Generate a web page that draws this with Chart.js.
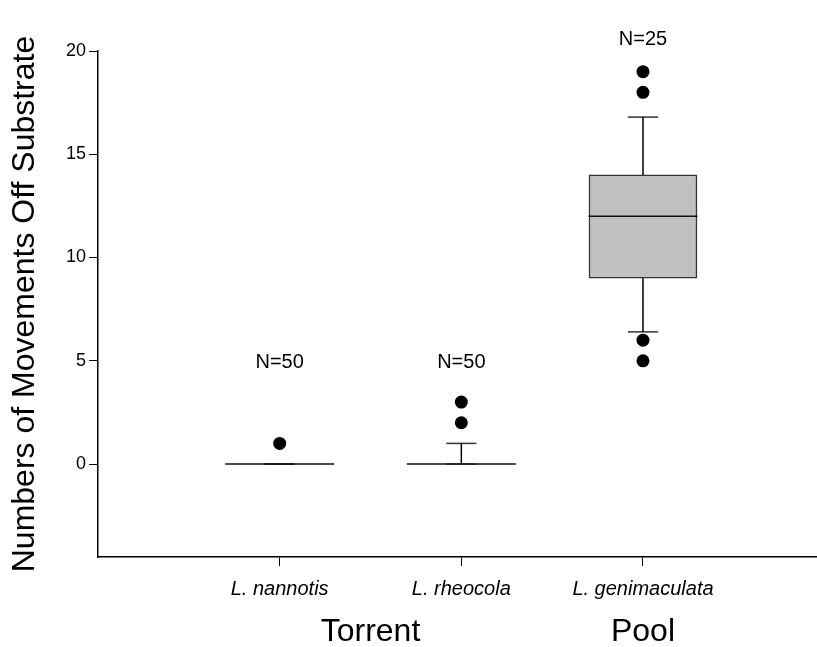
<!DOCTYPE html>
<html>
<head>
<meta charset="utf-8">
<script src="https://cdn.jsdelivr.net/npm/chart.js@4.4.0/dist/chart.umd.min.js"></script>
<style>
    body { margin: 0; background: #fff; }
    #wrap { width: 817px; height: 647px; }
</style>
</head>
<body>
<div id="wrap"><canvas id="boxChart"></canvas></div>
<script>
// data
const species = ["L. nannotis", "L. rheocola", "L. genimaculata"];
const positions = [1, 2, 3];
const habitats = ["Torrent", "Pool"];
const habitatPos = [1.5, 3];
const q1 = [0, 0, 9];
const medians = [0, 0, 12];
const q3 = [0, 0, 14];
const whiskerLow = [0, 0, 6.4];
const whiskerHigh = [0, 1, 16.8];
const outliers = [[1], [2, 3], [5, 6, 18, 19]];
const sampleSizes = ["N=50", "N=50", "N=25"];
const sampleLabelAt = [4.9, 4.9, 20.55];
const yTicks = [0, 5, 10, 15, 20];

const FONT = "'Liberation Sans', Arial, sans-serif";
Chart.defaults.font.family = FONT;
Chart.defaults.color = "#000";

const boxHalf = 0.3;
const capHalf = 0.083;

// a two point line segment
function segment(x1, y1, x2, y2, color, width) {
    return {
        type: "scatter",
        data: [{ x: x1, y: y1 }, { x: x2, y: y2 }],
        showLine: true,
        borderColor: color,
        borderWidth: width,
        pointRadius: 0,
        order: 1,
    };
}

const datasets = [];

// boxes (only where there is a real box)
datasets.push({
    type: "bar",
    data: positions
        .map((p, i) => ({ x: p, y: [q1[i], q3[i]] }))
        .filter((d) => d.y[1] > d.y[0]),
    backgroundColor: "#c0c0c0",
    borderColor: "#333",
    borderWidth: 1.5,
    borderSkipped: false,
    barThickness: 108,
    order: 5,
});

positions.forEach((p, i) => {
    // median
    datasets.push(segment(p - boxHalf, medians[i], p + boxHalf, medians[i], "#111", 1.5));
    // whiskers
    datasets.push(segment(p, q3[i], p, whiskerHigh[i], "#000", 1.5));
    datasets.push(segment(p, q1[i], p, whiskerLow[i], "#000", 1.5));
    // caps
    datasets.push(segment(p - capHalf, whiskerHigh[i], p + capHalf, whiskerHigh[i], "#333", 1.5));
    datasets.push(segment(p - capHalf, whiskerLow[i], p + capHalf, whiskerLow[i], "#333", 1.5));
});

// outliers
datasets.push({
    type: "scatter",
    data: outliers.flatMap((vals, i) => vals.map((v) => ({ x: positions[i], y: v }))),
    pointRadius: 6.5,
    pointBackgroundColor: "#000",
    pointBorderColor: "#000",
    pointBorderWidth: 0,
    order: 0,
});

// N= labels and habitat names
const textPlugin = {
    id: "extraText",
    afterDraw(chart) {
        const { ctx, chartArea } = chart;
        const x = chart.scales.x;
        const y = chart.scales.y;
        ctx.save();
        ctx.fillStyle = "#000";
        ctx.textAlign = "center";
        ctx.textBaseline = "middle";
        ctx.font = "20px " + FONT;
        sampleSizes.forEach((t, i) => {
            ctx.fillText(t, x.getPixelForValue(positions[i]), y.getPixelForValue(sampleLabelAt[i]));
        });
        ctx.font = "32px " + FONT;
        habitats.forEach((t, i) => {
            ctx.fillText(t, x.getPixelForValue(habitatPos[i]), chartArea.bottom + 75);
        });
        ctx.restore();
    },
};

new Chart(document.getElementById("boxChart"), {
    type: "scatter",
    data: { datasets },
    plugins: [textPlugin],
    options: {
        responsive: true,
        maintainAspectRatio: false,
        animation: false,
        layout: {
            autoPadding: false,
            padding: { top: 51, right: 0, bottom: 35, left: 0 },
        },
        plugins: {
            legend: { display: false },
            tooltip: { enabled: false },
        },
        scales: {
            x: {
                type: "linear",
                min: 0,
                max: 3.958,
                offset: false,
                afterBuildTicks: (scale) => {
                    scale.ticks = positions.map((v) => ({ value: v }));
                },
                ticks: {
                    autoSkip: false,
                    maxRotation: 0,
                    padding: 11,
                    font: { size: 20, style: "italic" },
                    callback: (v, i) => species[i],
                },
                grid: {
                    display: true,
                    offset: false,
                    drawOnChartArea: false,
                    drawTicks: true,
                    tickLength: 9,
                    color: "#000",
                },
                border: { display: true, color: "#000", width: 1.5 },
            },
            y: {
                min: -4.5,
                max: 20,
                afterBuildTicks: (scale) => {
                    scale.ticks = yTicks.map((v) => ({ value: v }));
                },
                ticks: {
                    padding: 3,
                    font: { size: 18 },
                },
                grid: {
                    display: true,
                    drawOnChartArea: false,
                    drawTicks: true,
                    tickLength: 9,
                    color: "#000",
                },
                border: { display: true, color: "#000", width: 1.5 },
                title: {
                    display: true,
                    text: "Numbers of Movements Off Substrate",
                    font: { size: 32 },
                    padding: { top: 6, bottom: 18.6 },
                },
            },
        },
    },
});
</script>
</body>
</html>
